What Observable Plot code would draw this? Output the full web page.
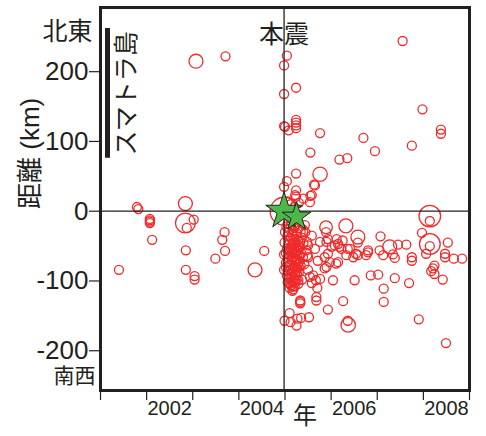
<!DOCTYPE html>
<html>
<head>
<meta charset="utf-8">
<script src="https://cdn.jsdelivr.net/npm/d3@7"></script>
<script src="https://cdn.jsdelivr.net/npm/@observablehq/plot@0.6"></script>
<style>
  html, body { margin: 0; padding: 0; background: #fff; }
  #chart svg { display: block; }
</style>
</head>
<body>
<div id="chart"></div>
<script>
// ---- data: [year, distance km, magnitude] ----
const beforeQuakes = [
  [2001.40,-84,5],[2001.79,6,5],[2001.82,3,5],[2002.07,-11,5],[2002.07,-13,5],[2002.07,-15,5],
  [2002.07,-17,5],[2002.12,-41,5],[2002.84,11,5.55],[2002.84,-17,6.2],[2002.87,-24,5],[2003.02,-12,5],
  [2002.85,-56,5],[2002.85,-84,5],[2003.04,-93,5],[2003.04,-98,5],[2003.69,-30,5],[2003.64,-41,5],
  [2003.70,-57,5],[2003.49,-68,5],[2004.35,-84,5.55],[2004.55,-57,5],[2003.07,215,5.55],[2003.71,222,5]
];
const northQuakes = [
  [2007.55,244,5],[2005.04,223,5],[2004.98,209,5],[2004.98,168,5],[2005.24,177,5],[2004.98,122,5],
  [2005.00,121,5],[2005.08,116,5],[2005.24,131,5],[2005.24,127,5],[2005.24,123,5],[2005.24,119,5],
  [2005.76,112,5],[2006.70,105,5],[2007.98,146,5],[2008.38,117,5],[2008.38,111,5],[2007.75,94,5],
  [2006.95,86,5],[2005.55,84,5],[2006.18,74,5],[2006.35,76,5],[2005.76,53,5.6],[2005.24,54,5],
  [2005.63,38,5],[2005.04,43,5],[2004.98,35,5],[2005.55,22,5],[2005.24,30,5],[2005.24,21,5],
  [2005.22,23,5],[2005.58,23,5],[2005.65,37,5],[2005.54,13,5],[2005.40,18,5],[2005.12,10,5],
  [2005.20,6,5],[2005.30,12,5],[2005.06,14,5],[2004.98,0,7.1]
];
const coreQuakes = [
  [2005.06,-18,5],[2005.14,-16,5],[2005.22,-20,5],[2005.30,-24,5],[2005.10,-26,5],[2005.18,-28,5],
  [2005.26,-32,5],[2005.34,-30,5],[2005.05,-36,5],[2005.12,-38,5],[2005.20,-40,5],[2005.28,-42,5],
  [2005.36,-38,5],[2005.08,-46,5],[2005.16,-48,5],[2005.24,-50,5],[2005.32,-52,5],[2005.40,-46,5],
  [2004.99,-45,5],[2005.04,-54,5],[2005.11,-58,5],[2005.19,-60,5],[2005.27,-62,5],[2005.35,-60,5],
  [2004.98,-62,5],[2005.07,-66,5],[2005.15,-70,5],[2005.23,-68,5],[2005.31,-72,5],[2005.39,-66,5],
  [2005.02,-74,5],[2005.10,-78,5],[2005.18,-80,5],[2005.26,-82,5],[2005.34,-78,5],[2004.98,-84,5],
  [2005.06,-86,5],[2005.14,-90,5],[2005.22,-92,5],[2005.30,-88,5],[2005.09,-96,5],[2005.17,-100,5],
  [2005.25,-98,5],[2005.13,-106,5],[2005.21,-108,5],[2005.16,-114,5],[2005.44,-30,5],[2005.48,-44,5],
  [2005.46,-56,5],[2005.42,-76,5],[2005.50,-84,5],[2005.03,-22,5],[2005.00,-30,5],[2005.43,-20,5],
  [2005.37,-98,5],[2005.12,-84,5],[2005.20,-54,5],[2005.28,-76,5],[2005.08,-30,5],[2005.33,-44,5],
  [2005.14,-62,5],[2005.22,-74,5],[2005.06,-102,5],[2005.18,-112,5],[2005.10,-110,5],[2005.29,-56,5],
  [2005.04,-92,5],[2005.24,-86,5],[2005.36,-28,5.4],[2005.45,-62,5.4],
  [2005.12,-20,5],[2005.20,-24,5],[2005.16,-34,5],[2005.24,-36,5],[2005.10,-42,5],[2005.20,-46,5],
  [2005.12,-52,5],[2005.28,-48,5],[2005.08,-56,5],[2005.16,-56,5],[2005.24,-58,5],[2005.10,-64,5],
  [2005.18,-66,5],[2005.26,-70,5],[2005.06,-72,5],[2005.14,-76,5],[2005.22,-80,5],[2005.10,-84,5],
  [2005.18,-86,5],[2005.26,-90,5],[2005.12,-94,5],[2005.20,-96,5],[2005.14,-100,5],[2005.22,-102,5],
  [2005.10,-104,5],[2005.16,-108,5],[2005.02,-80,5],[2005.02,-60,5],[2005.32,-64,5],[2005.30,-80,5]
];
const midQuakes = [
  [2006.32,-21,5.55],[2006.58,-37,5.55],[2006.58,-45,5],[2006.01,-51,5],[2006.15,-47,5],[2006.22,-54,5],
  [2006.41,-54,5],[2006.33,-63,5],[2006.15,-73,5],[2006.80,-56,5],[2006.54,-61,5],[2006.48,-66,5],
  [2005.89,-23,5.4],[2005.89,-30,5],[2005.90,-44,5],[2005.90,-80,5],[2005.93,-40,5],[2006.12,-40,5],
  [2006.25,-42,5],[2006.08,-49,5],[2005.76,-44,5],[2005.58,-35,5],[2005.65,-54,5],[2006.18,-51,5],
  [2006.36,-54,5],[2005.93,-61,5],[2006.58,-63,5],[2006.11,-75,5],[2005.71,-71,5],[2005.50,-66,5],
  [2005.61,-92,5],[2005.76,-97,5],[2005.29,-99,5],[2005.29,-104,5],[2005.54,-94,5],[2005.67,-99,5],
  [2005.58,-103,5],[2005.70,-110,5],[2006.04,-99,5],[2006.51,-99,5],[2005.68,-123,5],[2005.68,-128,5],
  [2005.33,-128,5],[2005.33,-130,5],[2005.33,-132,5],[2005.93,-141,5],[2006.26,-129,5],[2006.36,-157,5],
  [2006.37,-163,5.6],[2004.99,-157,5],[2005.10,-146,5],[2005.12,-159,5],[2005.25,-164,5],[2005.27,-154,5],
  [2005.35,-153,5],[2005.52,-152,5],[2005.50,-49,5],[2005.86,-66,5],[2005.97,-73,5],[2005.86,-82,5]
];
const lateQuakes = [
  [2008.14,-7,6.4],[2008.14,-14,5],[2007.97,-31,5],[2008.14,-47,6.3],[2008.14,-50,5],[2008.53,-45,5],
  [2008.06,-61,5],[2008.47,-61,5],[2008.47,-66,5],[2008.66,-68,5],[2008.84,-68,5],[2008.24,-78,5],
  [2008.21,-82,5],[2008.17,-86,5],[2008.24,-90,5],[2008.42,-98,5],[2007.07,-36,5],[2007.45,-48,5],
  [2007.63,-48,5],[2007.27,-51,5.55],[2007.05,-56,5],[2007.13,-63,5],[2007.34,-62,5],[2007.38,-67,5],
  [2007.75,-66,5],[2007.75,-71,5],[2006.80,-59,5],[2006.76,-63,5],[2006.86,-92,5],[2007.02,-91,5],
  [2007.38,-96,5],[2007.69,-103,5],[2007.14,-111,5],[2007.14,-130,5],[2007.90,-155,5],[2008.49,-189,5]
];
// main shock and largest aftershock (stars)
const starYears = [2004.98, 2005.25];
const starKm = [0, -8];
// Sumatra extent (km) marker
const sumatraKm = [76, 262];
// axes
const yTicks = [-200, -100, 0, 100, 200];
const xTickYears = [2001, 2002, 2003, 2004, 2005, 2006, 2007, 2008, 2009];
const xTickLabels = ["2002", "2004", "2006", "2008"];

const quakes = [...beforeQuakes, ...northQuakes, ...coreQuakes, ...midQuakes, ...lateQuakes]
  .map(([year, km, mag]) => ({year, km, mag}));
const xLabelPos = xTickLabels.map(s => +s + 0.5);
const ink = "#231f20";
const font = "'Liberation Sans', Arial, 'Noto Sans CJK JP', sans-serif";

const chart = Plot.plot({
  width: 486,
  height: 436,
  marginLeft: 100,
  marginRight: 17,
  marginTop: 7,
  marginBottom: 46,
  x: {domain: [2001, 2009]},
  y: {domain: [-257, 292]},
  r: {type: "linear", domain: [5, 7], range: [4.5, 13.5]},
  style: {fontFamily: font, color: ink, background: "#fff"},
  marks: [
    Plot.dot(quakes, {x: "year", y: "km", r: "mag", stroke: "#ee2a2a", strokeWidth: 1.3, fill: "none", sort: null}),
    Plot.ruleY([0], {stroke: ink, strokeWidth: 1.3}),
    Plot.ruleX([starYears[0]], {stroke: ink, strokeWidth: 1.3}),
    Plot.ruleX([sumatraKm], {x: 2001, dx: 7, y1: d => d[0], y2: d => d[1], stroke: ink, strokeWidth: 5}),
    Plot.text(["スマトラ島"], {x: 2001, y: (sumatraKm[0] + sumatraKm[1]) / 2, dx: 26, rotate: -90, fontSize: 25, fill: ink}),
    Plot.dot([0], {x: () => starYears[0], y: () => starKm[0], symbol: "star", r: 11.5, fill: "#4db848", stroke: ink, strokeWidth: 1}),
    Plot.dot([1], {x: () => starYears[1], y: () => starKm[1], symbol: "star", r: 9, fill: "#4db848", stroke: ink, strokeWidth: 1}),
    Plot.frame({stroke: ink, strokeWidth: 3}),
    Plot.axisY(yTicks, {tickSize: 11, tickPadding: 1, fontSize: 26, tickFormat: d => String(d), label: null, stroke: ink, strokeWidth: 1.2}),
    Plot.axisX(xTickYears, {tickSize: 10, tickFormat: () => "", label: null, stroke: ink, strokeWidth: 1.2}),
    Plot.axisX(xLabelPos, {tickSize: 0, tickPadding: 10, fontSize: 20, tickFormat: d => xTickLabels[xLabelPos.indexOf(d)], label: null}),
    Plot.text(["本震"], {x: () => starYears[0], frameAnchor: "top", dy: 18, fontSize: 25, fill: ink}),
    Plot.text(["北東"], {frameAnchor: "top-left", textAnchor: "end", dx: -8, dy: 15, fontSize: 25, fill: ink}),
    Plot.text(["南西"], {frameAnchor: "bottom-left", textAnchor: "end", dx: -5, dy: -8, fontSize: 21, fill: ink}),
    Plot.text(["距離 (km)"], {frameAnchor: "left", dx: -70, dy: 10, rotate: -90, fontSize: 26, fill: ink}),
    Plot.text(["年"], {frameAnchor: "bottom", dx: 20, dy: 33, fontSize: 24, fill: ink})
  ]
});
document.getElementById("chart").appendChild(chart);
</script>
</body>
</html>
